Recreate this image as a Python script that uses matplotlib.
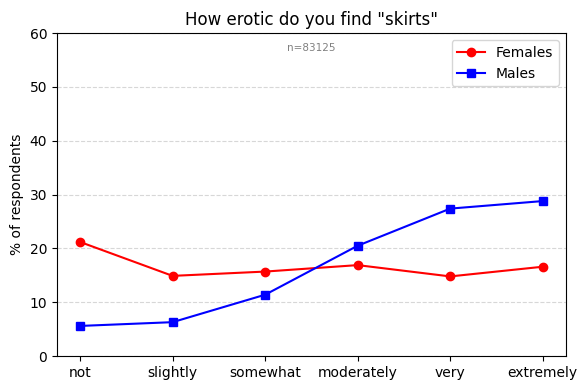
import matplotlib.pyplot as plt

# data
categories = ["not", "slightly", "somewhat", "moderately", "very", "extremely"]
females = [21.2, 14.9, 15.7, 16.9, 14.8, 16.6]
males = [5.6, 6.3, 11.4, 20.5, 27.4, 28.8]
n_total = 83125

fig, ax = plt.subplots(figsize=(5.87, 3.9), dpi=100)

ax.plot(categories, females, color="red", marker="o", label="Females")
ax.plot(categories, males, color="blue", marker="s", label="Males")

ax.set_title('How erotic do you find "skirts"')
ax.set_ylabel("% of respondents")
ax.set_ylim(0, 60)
ax.grid(axis="y", linestyle="--", alpha=0.5)
ax.text(0.5, 0.97, f"n={n_total}", transform=ax.transAxes,
        ha="center", va="top", fontsize=7.5, color="gray")
ax.legend(loc="upper right")

plt.subplots_adjust(left=0.097, right=0.964, top=0.915, bottom=0.087)
plt.savefig("out.png")
